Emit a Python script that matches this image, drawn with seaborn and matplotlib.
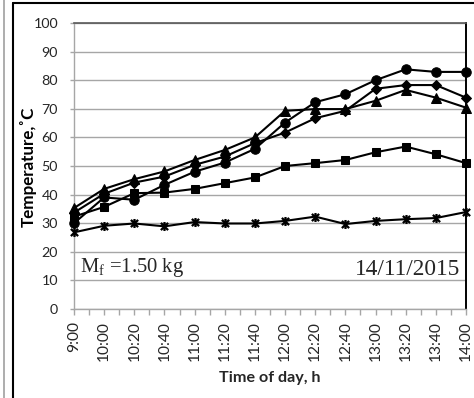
import numpy as np
import pandas as pd
import matplotlib
matplotlib.use("Agg")
import matplotlib.pyplot as plt
from matplotlib.path import Path
from matplotlib.lines import Line2D
from matplotlib.ticker import FixedLocator
import seaborn as sns

times = ["9:00", "10:00", "10:20", "10:40", "11:00", "11:20", "11:40",
         "12:00", "12:20", "12:40", "13:00", "13:20", "13:40", "14:00"]
circle_vals = [30.0, 39.0, 38.2, 43.4, 48.0, 51.2, 56.0, 65.2, 72.3, 75.1, 80.0, 83.8, 82.9, 82.9]
diamond_vals = [33.7, 40.3, 44.2, 46.3, 50.4, 53.3, 58.0, 61.7, 66.7, 69.3, 77.0, 78.3, 78.3, 73.9]
triangle_vals = [35.3, 42.0, 45.4, 48.1, 52.1, 55.6, 60.0, 69.3, 69.9, 69.9, 72.8, 76.6, 73.9, 70.4]
square_vals = [32.3, 35.7, 40.5, 40.7, 42.0, 44.0, 46.0, 50.0, 51.0, 52.1, 54.8, 56.8, 54.1, 51.0]
star_vals = [26.8, 29.1, 29.9, 28.9, 30.4, 29.9, 29.9, 30.8, 32.3, 29.7, 30.8, 31.4, 31.8, 33.9]
y_ticks = [0, 10, 20, 30, 40, 50, 60, 70, 80, 90, 100]

sns.set_theme(style="white")
plt.rcParams["font.family"] = ["Lato", "DejaVu Sans"]

fig = plt.figure(figsize=(4.74, 3.98), dpi=100)
ax = fig.add_axes([74/474, 1-309/398, 392/474, 286/398])

star = Path([(-1, -1), (1, 1), (-1, 1), (1, -1), (0, -1.25), (0, 1.25)],
            [Path.MOVETO, Path.LINETO, Path.MOVETO, Path.LINETO, Path.MOVETO, Path.LINETO])

series = [
    (star_vals, star, 6.5, dict(markeredgewidth=1.6, markerfacecolor="none")),
    (square_vals, "s", 6.2, {}),
    (triangle_vals, "^", 7.2, {}),
    (diamond_vals, "D", 5.6, {}),
    (circle_vals, "o", 6.8, {}),
]
for vals, mk, ms, extra in series:
    df = pd.DataFrame({"time": times, "temp": vals})
    sns.lineplot(data=df, x="time", y="temp", ax=ax, color="black", linewidth=1.5,
                 marker=mk, markersize=ms, markeredgecolor="black", sort=False,
                 clip_on=False, zorder=3, **extra)

ax.set_xlim(0, len(times) - 1)
ax.set_ylim(0, 100)
ax.set_yticks(y_ticks)
ax.xaxis.set_minor_locator(FixedLocator(np.arange(0.5, len(times) - 1, 1.0)))
ax.grid(axis="y", color="#a6a6a6", linewidth=1.0)
ax.set_axisbelow(True)

for side in ["left", "bottom"]:
    ax.spines[side].set_color("#a6a6a6")
    ax.spines[side].set_linewidth(1.0)
ax.spines["top"].set_color("#595959")
ax.spines["top"].set_linewidth(1.2)
ax.spines["right"].set_color("black")
ax.spines["right"].set_linewidth(1.4)

ax.tick_params(axis="y", which="major", direction="out", length=3, width=1.0,
               color="#a6a6a6", pad=8.5, labelsize=10.5, labelcolor="#262626", left=True)
ax.tick_params(axis="x", which="both", direction="out", length=4.3, width=1.0,
               color="#a6a6a6", bottom=True)
ax.tick_params(axis="x", which="major", pad=4.5, labelsize=10.5, labelcolor="#262626",
               labelrotation=90)

ax.set_ylabel("")
xlab = ax.set_xlabel("Time of day, h", fontsize=10.5, fontweight="bold", labelpad=7)
ylab = fig.text(28.5/474, 1-167/398, "Temperature,˚C", rotation=90, ha="center", va="center",
                fontsize=10.5, fontweight="bold", color="black")

mf = ax.text(0.015, 0.129, r"M$_\mathregular{f}$ =1.50 kg", transform=ax.transAxes,
             fontsize=16, family=["Liberation Serif", "DejaVu Serif"], ha="left", va="baseline")
dt = ax.text(0.985, 0.119, "14/11/2015", transform=ax.transAxes,
             fontsize=17, family=["Liberation Serif", "DejaVu Serif"], ha="right", va="baseline")

# size text so its extent matches the reference picture
fig.canvas.draw()
r = fig.canvas.get_renderer()

def scale_for(artist, target, dim):
    bb = artist.get_window_extent(r)
    cur = bb.width if dim == "w" else bb.height
    return target / cur

ylab.set_fontsize(10.5 * scale_for(ylab, 121, "h"))
xlab.set_fontsize(10.5 * scale_for(xlab, 102, "w"))
mf.set_fontsize(16 * scale_for(mf, 104, "w"))
dt.set_fontsize(17 * scale_for(dt, 106, "w"))
ytl = [t for t in ax.get_yticklabels() if t.get_text() == "100"][0]
ys = scale_for(ytl, 25, "w")
xtl = [t for t in ax.get_xticklabels() if t.get_text() == "10:00"][0]
xs = scale_for(xtl, 40, "h")
ax.tick_params(axis="y", labelsize=10.5 * ys)
ax.tick_params(axis="x", labelsize=10.5 * xs)

# outer frame lines
fig.add_artist(Line2D([12.5/474, 12.5/474], [0, 1-3/398], color="black", linewidth=1.5))
fig.add_artist(Line2D([12.5/474, 1], [1-3/398, 1-3/398], color="black", linewidth=1.5))
fig.add_artist(Line2D([3.5/474, 3.5/474], [0, 1], color="#a0a0a0", linewidth=1.2))

fig.savefig("out.png", dpi=100)
